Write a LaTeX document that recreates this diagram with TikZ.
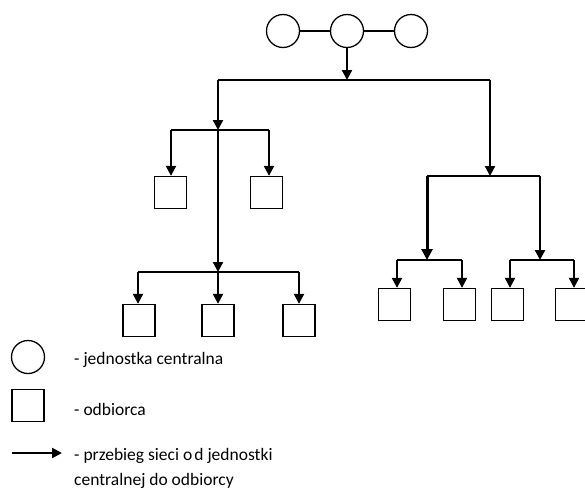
\documentclass[tikz,border=0pt]{standalone}
\usepackage{fontspec}
\setmainfont{Carlito}
\usetikzlibrary{arrows.meta}
\begin{document}
\begin{tikzpicture}[x=1pt,y=-1pt,
  ln/.style={line width=1.4pt},
  arr/.style={line width=2.2pt,-{Triangle[width=10pt,length=10pt]}},
  arrb/.style={line width=3pt,-{Triangle[width=11pt,length=11pt]}},
  unit/.style={draw,line width=1.3pt,circle,minimum size=33pt,inner sep=0pt},
  recv/.style={draw,line width=1.3pt,rectangle,minimum width=32pt,minimum height=32pt,inner sep=0pt},
  lbl/.style={anchor=west,inner sep=0pt,font=\fontsize{17.5}{20}\selectfont}]
\clip (0,0) rectangle (585,490);
\useasboundingbox (0,0) rectangle (585,490);
% central units
\node[unit] (c1) at (283,31) {};
\node[unit] (c2) at (347,31) {};
\node[unit] (c3) at (411,31) {};
\draw[ln] (c1) -- (c2);
\draw[ln] (c2) -- (c3);
% main bus
\coordinate (m) at (347,80);
\coordinate (bl) at (218,80);
\coordinate (br) at (490,80);
\draw[arr] (c2) -- (m);
\draw[ln] (bl) -- (br);
% left subtree
\coordinate (l1) at (218,130);
\coordinate (l1a) at (171,130);
\coordinate (l1b) at (269,130);
\coordinate (l2) at (218,272);
\coordinate (l2a) at (138,272);
\coordinate (l2c) at (299,272);
\node[recv] (b1) at (170.5,192.5) {};
\node[recv] (b2) at (266.5,192.5) {};
\node[recv] (b3) at (139,320.5) {};
\node[recv] (b4) at (218,320.5) {};
\node[recv] (b5) at (299,320.5) {};
\draw[arr] (bl) -- (l1);
\draw[ln] (l1a) -- (l1b);
\draw[arr] (l1a) -- (l1a |- b1.north);
\draw[arr] (l1b) -- (l1b |- b2.north);
\draw[arr] (l1) -- (l2);
\draw[ln] (l2a) -- (l2c);
\draw[arr] (l2a) -- (l2a |- b3.north);
\draw[arr] (l2) -- (b4.north);
\draw[arr] (l2c) -- (l2c |- b5.north);
% right subtree
\coordinate (r1) at (490,176);
\coordinate (r1a) at (427,176);
\coordinate (r1b) at (540,176);
\coordinate (r2a) at (427,260);
\coordinate (r2b) at (540,260);
\coordinate (s1) at (397,260);
\coordinate (s2) at (462,260);
\coordinate (s3) at (510,260);
\coordinate (s4) at (574,260);
\node[recv] (b6) at (394.5,304.5) {};
\node[recv] (b7) at (459.5,304.5) {};
\node[recv] (b8) at (507.5,304.5) {};
\node[recv] (b9) at (571.5,304.5) {};
\draw[arr] (br) -- (r1);
\draw[ln] (r1a) -- (r1b);
\draw[arrb] (r1a) -- (r2a);
\draw[arr] (r1b) -- (r2b);
\draw[ln] (s1) -- (s2);
\draw[ln] (s3) -- (s4);
\draw[arr] (s1) -- (s1 |- b6.north);
\draw[arr] (s2) -- (s2 |- b7.north);
\draw[arr] (s3) -- (s3 |- b8.north);
\draw[arr] (s4) -- (s4 |- b9.north);
% legend
\node[unit] (lc) at (28,357) {};
\node[recv] (lb) at (28,405.5) {};
\coordinate (la) at (12,453);
\coordinate (lz) at (62,453);
\draw[arr] (la) -- (lz);
\node[lbl] (t1) at (74,360) {- jednostka centralna};
\node[lbl] (t2) at (74,409) {- odbiorca};
\node[lbl] (t3) at (74,456) {- przebieg sieci o\hspace{0.12em}d jednostki};
\node[lbl] (t4) at (74,480.5) {centralnej do odbiorcy};
\end{tikzpicture}
\end{document}
